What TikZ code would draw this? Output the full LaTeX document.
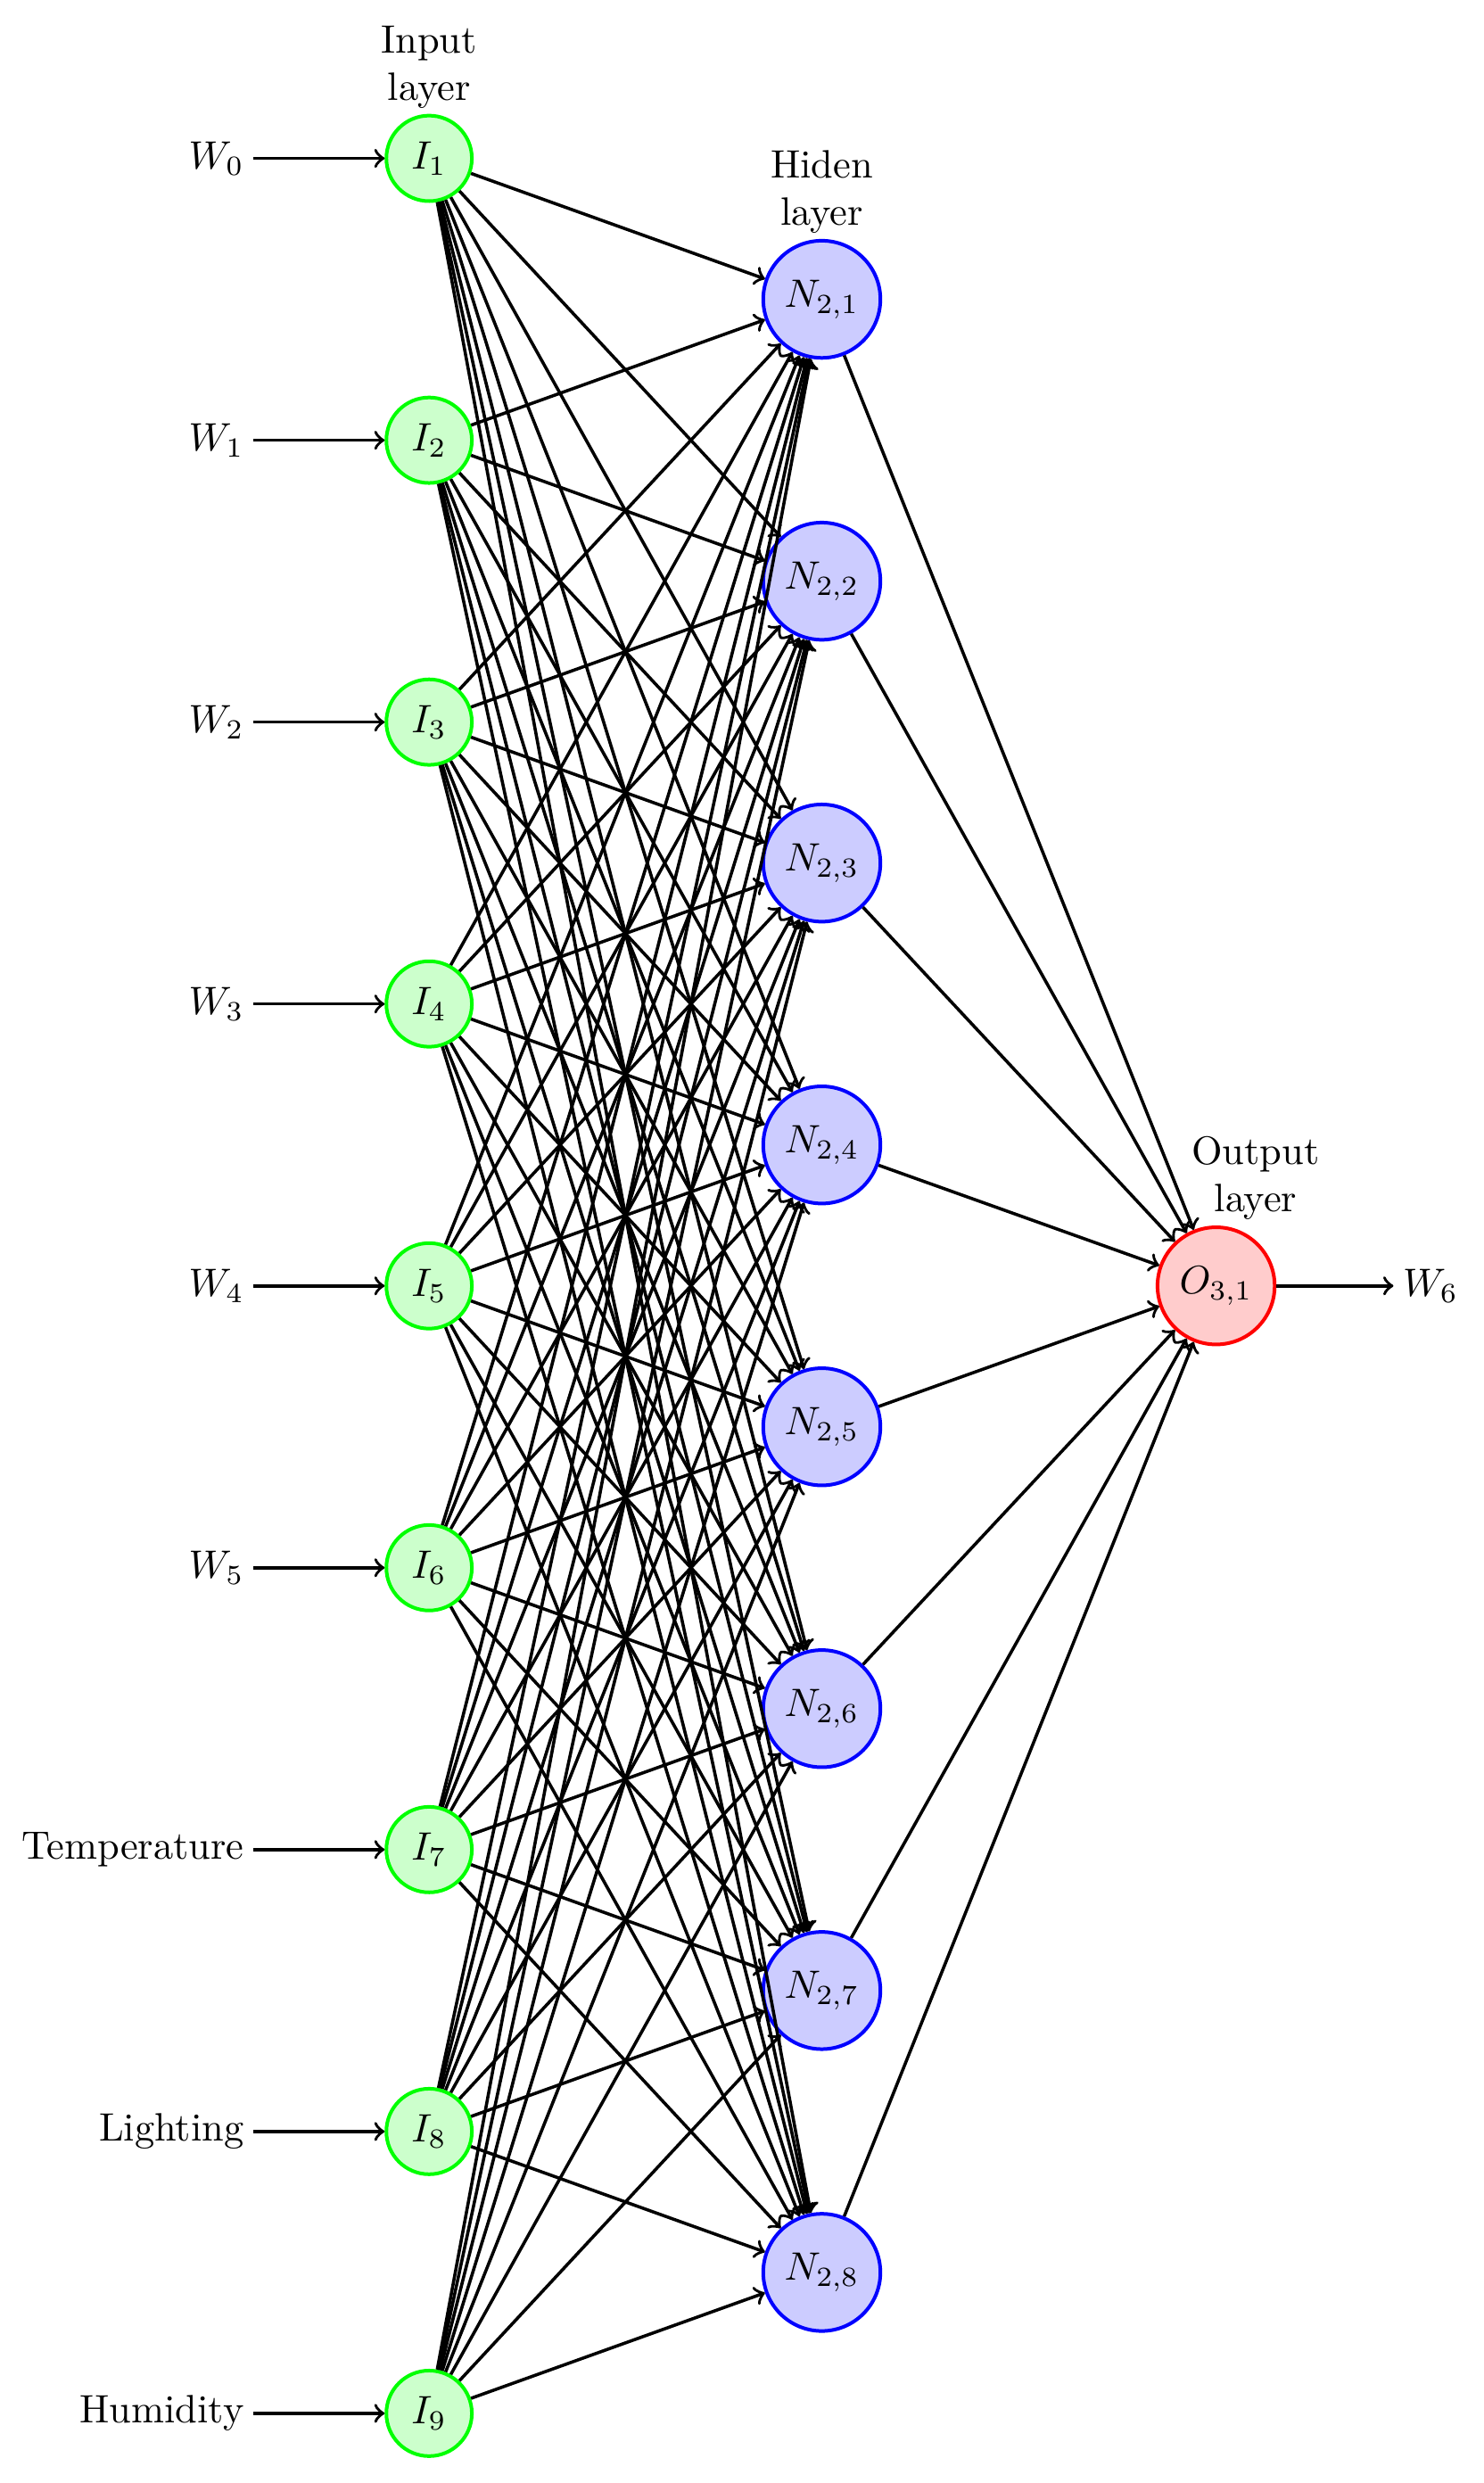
\documentclass[tikz,border=0pt]{standalone}
\usetikzlibrary{positioning}
\begin{document}
\begin{tikzpicture}[x=0.4pt,y=-0.4pt,line width=0.8pt,
	neuron/.style={circle,draw,line width=0.9pt,inner sep=0pt},
	input neuron/.style={neuron,draw=green,fill=green!20,minimum size=21.6pt},
	hidden neuron/.style={neuron,draw=blue,fill=blue!20,minimum size=29.6pt},
	output neuron/.style={neuron,draw=red,fill=red!20,minimum size=29.6pt},
	layer label/.style={align=center,inner sep=1pt}]
	\useasboundingbox (0, 0) rectangle (937, 1568);
	% Input layer
	\foreach \name/\lab [count=\i] in {0/$W_0$,1/$W_1$,2/$W_2$,3/$W_3$,4/$W_4$,5/$W_5$,t/Temperature,l/Lighting,h/Humidity} {
		\node[input neuron] (I\i) at (271, {100+178*(\i-1)}) {$I_{\i}$};
		\node[anchor=east,inner sep=2pt] (L\i) at (160, {100+178*(\i-1)}) {\lab};
		\draw[->] (L\i) -- (I\i);
	}
	% Hidden layer
	\foreach \j in {1,...,8} {
		\node[hidden neuron] (N\j) at (519, {189+178*(\j-1)}) {$N_{2,\j}$};
	}
	% Output layer
	\node[output neuron] (O) at (768, 812) {$O_{3,1}$};
	\node[anchor=west,inner sep=2pt] (W6) at (880, 812) {$W_6$};
	% Connections
	\foreach \i in {1,...,9}
		\foreach \j in {1,...,8}
			\draw[->] (I\i) -- (N\j);
	\foreach \j in {1,...,8}
		\draw[->] (N\j) -- (O);
	\draw[->] (O) -- (W6);
	% Layer labels
	\node[layer label,above=0pt of I1] {Input\\layer};
	\node[layer label,above=0pt of N1] {Hiden\\layer};
	\node[layer label,above=0pt of O, xshift=10pt] {Output\\layer};
\end{tikzpicture}
\end{document}
